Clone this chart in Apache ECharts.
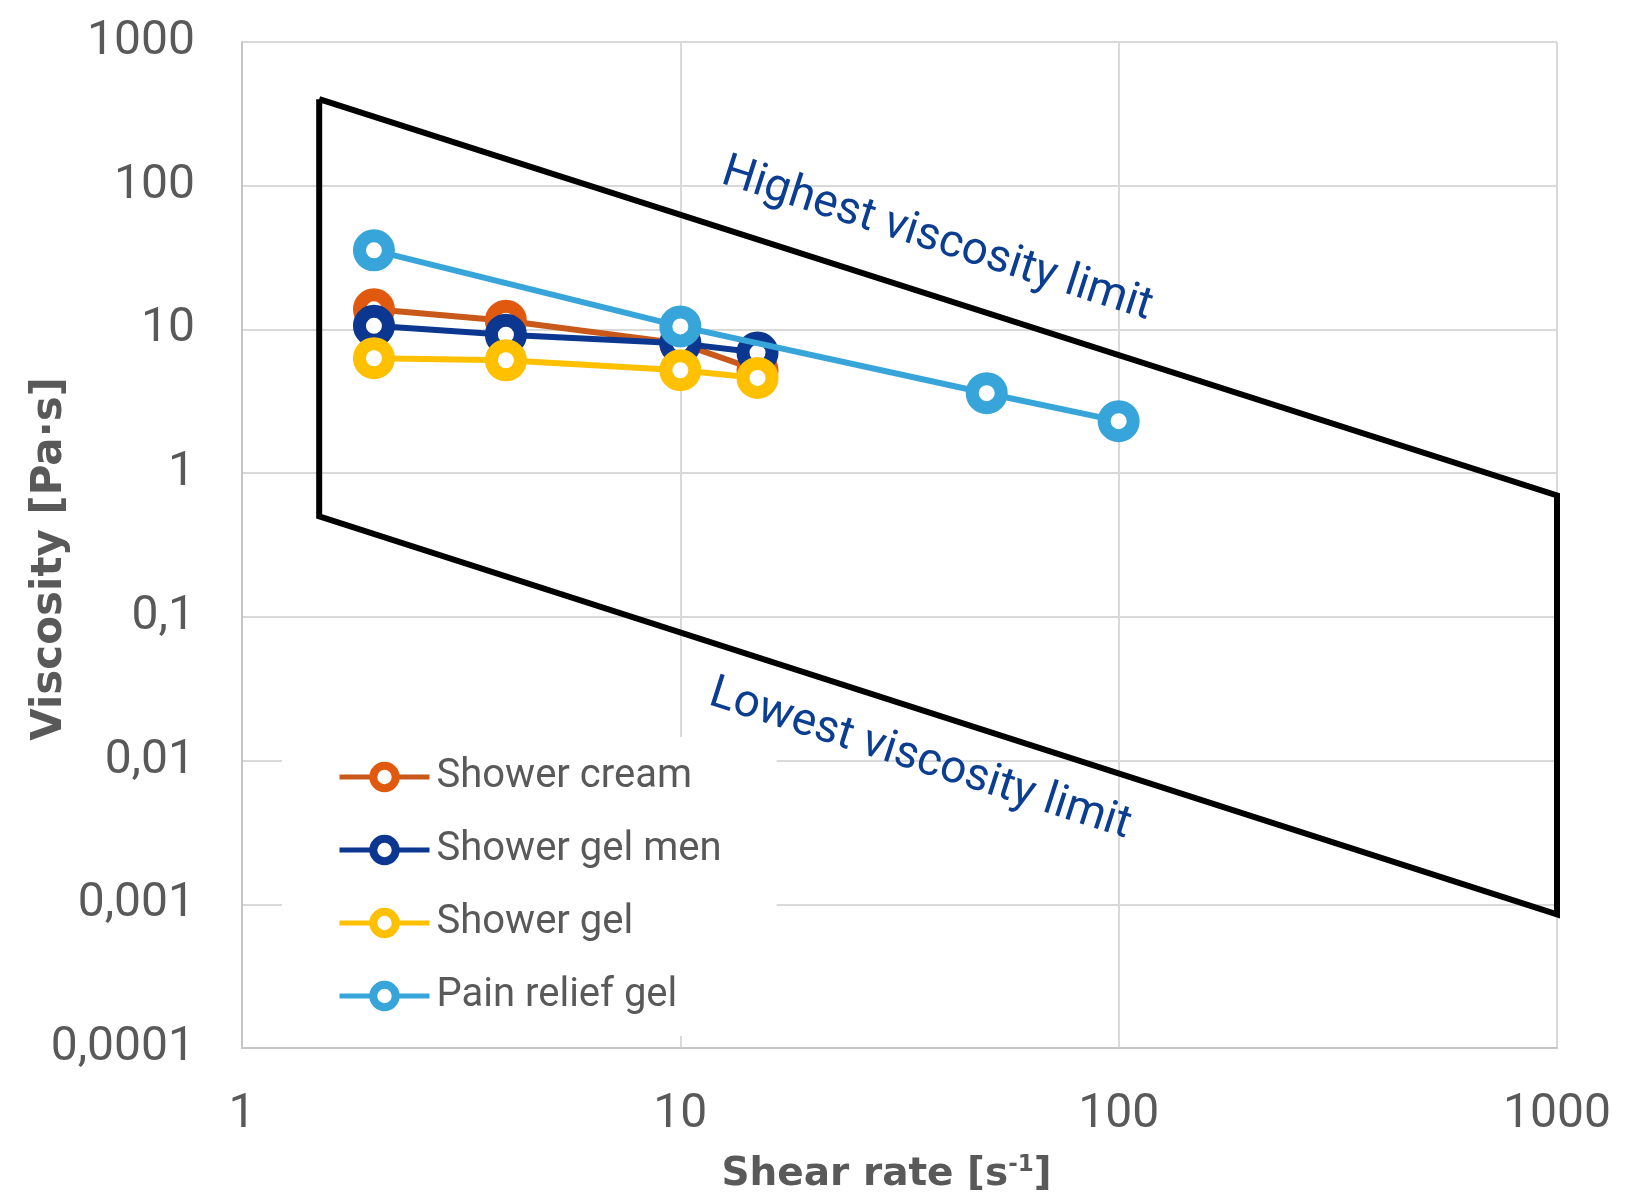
<!DOCTYPE html>
<html>
<head>
<meta charset="utf-8">
<script src="https://cdn.jsdelivr.net/npm/echarts@6/dist/echarts.min.js"></script>
<style>
  html, body { margin: 0; padding: 0; background: #ffffff; }
  #chart { width: 1651px; height: 1192px; }
</style>
</head>
<body>
<div id="chart"></div>
<script>
// ---- Data ----
const seriesNames = ['Shower cream', 'Shower gel men', 'Shower gel', 'Pain relief gel'];
const showerCreamX = [2, 4, 10, 15];
const showerCreamY = [13.8, 11.5, 8.0, 5.2];
const showerGelMenX = [2, 4, 10, 15];
const showerGelMenY = [10.6, 9.2, 8.0, 6.9];
const showerGelX = [2, 4, 10, 15];
const showerGelY = [6.3, 6.1, 5.2, 4.6];
const painReliefX = [2, 10, 50, 100];
const painReliefY = [35.5, 10.5, 3.6, 2.3];
// limit polygon corners (shear rate, viscosity)
const limitX = [1.5, 1000, 1000, 1.5, 1.5];
const limitY = [400, 0.7, 0.00085, 0.5, 400];
// annotation anchors (data coords)
const annotTexts = ['Highest viscosity limit', 'Lowest viscosity limit'];
const annotX = [38.5, 35.2];
const annotY = [41.9, 0.0101];
// tick labels
const xTicks = [1, 10, 100, 1000];
const xTickLabels = ['1', '10', '100', '1000'];
const yTicks = [0.0001, 0.001, 0.01, 0.1, 1, 10, 100, 1000];
const yTickLabels = ['0,0001', '0,001', '0,01', '0,1', '1', '10', '100', '1000'];

const colors = ['#E0590F', '#0B3791', '#FFC000', '#38A5DA'];
const lineColors = ['#C8591A', '#0B3791', '#FFC000', '#38A5DA'];

function zip(xs, ys) { return xs.map((x, i) => [x, ys[i]]); }
function tickLabel(v, ticks, labels) {
  const lv = Math.round(Math.log10(v));
  for (let i = 0; i < ticks.length; i++) {
    if (Math.round(Math.log10(ticks[i])) === lv) return labels[i];
  }
  return '';
}

const chart = echarts.init(document.getElementById('chart'), null, { renderer: 'canvas' });

const dataSets = [
  zip(showerCreamX, showerCreamY),
  zip(showerGelMenX, showerGelMenY),
  zip(showerGelX, showerGelY),
  zip(painReliefX, painReliefY)
];

const mainSeries = dataSets.map((d, i) => ({
  name: seriesNames[i],
  type: 'line',
  data: d,
  symbol: 'circle',
  symbolSize: 29,
  showSymbol: true,
  lineStyle: { color: lineColors[i], width: 6 },
  itemStyle: { color: '#ffffff', borderColor: colors[i], borderWidth: 13 },
  z: 3 + i,
  animation: false
}));

const option = {
  animation: false,
  backgroundColor: '#ffffff',
  grid: { left: 242, right: 94, top: 42, bottom: 144, containLabel: false, outerBoundsMode: 'none' },
  legend: {
    data: seriesNames,
    orient: 'vertical',
    left: 282,
    top: 737,
    backgroundColor: '#ffffff',
    padding: [20, 55, 20, 55],
    itemWidth: 90,
    itemHeight: 28,
    itemGap: 33,
    itemStyle: { borderWidth: 8, color: '#ffffff' },
    lineStyle: { width: 5 },
    textStyle: { fontFamily: 'Roboto', fontSize: 40, color: '#595959', padding: [0, 0, 0, 2] },
    selectedMode: false
  },
  xAxis: {
    type: 'log',
    logBase: 10,
    min: 1,
    max: 1000,
    name: 'Shear rate [s{sup|-1}]',
    nameLocation: 'middle',
    nameGap: 106,
    nameTextStyle: {
      fontFamily: 'DejaVu Sans', fontWeight: 'bold', fontSize: 39, color: '#595959',
      padding: [0, 26, 0, 0],
      rich: { sup: { fontFamily: 'DejaVu Sans', fontWeight: 'bold', fontSize: 23, color: '#595959', verticalAlign: 'top', padding: [0, 0, 18, 0] } }
    },
    axisLine: { show: true, lineStyle: { color: '#c6c6c6', width: 2 } },
    axisTick: { show: false },
    axisLabel: {
      fontFamily: 'Roboto', fontSize: 48, color: '#595959', margin: 43,
      formatter: v => tickLabel(v, xTicks, xTickLabels)
    },
    splitLine: { show: true, lineStyle: { color: '#d9d9d9', width: 2 } },
    minorTick: { show: false },
    minorSplitLine: { show: false }
  },
  yAxis: {
    type: 'log',
    logBase: 10,
    min: 0.0001,
    max: 1000,
    name: 'Viscosity [Pa·s]',
    nameLocation: 'middle',
    nameGap: 171,
    nameMoveOverlap: false,
    nameTextStyle: {
      fontFamily: 'DejaVu Sans', fontWeight: 'bold', fontSize: 42, color: '#595959',
      padding: [0, 28, 0, 0]
    },
    axisLine: { show: true, lineStyle: { color: '#c6c6c6', width: 2 } },
    axisTick: { show: false },
    axisLabel: {
      fontFamily: 'Roboto', fontSize: 48, color: '#595959', margin: 47,
      formatter: v => tickLabel(v, yTicks, yTickLabels)
    },
    splitLine: { show: true, lineStyle: { color: '#d9d9d9', width: 2 } }
  },
  series: [
    {
      name: 'limits',
      type: 'line',
      data: zip(limitX, limitY),
      symbol: 'none',
      lineStyle: { color: '#000000', width: 6, join: 'miter' },
      z: 2,
      silent: true,
      animation: false
    }
  ].concat(mainSeries)
};

chart.setOption(option);

// annotations positioned through the chart's own scales
const pTL = chart.convertToPixel({ gridIndex: 0 }, [limitX[0], limitY[0]]);
const pTR = chart.convertToPixel({ gridIndex: 0 }, [limitX[1], limitY[1]]);
const angle = Math.atan2(pTR[1] - pTL[1], pTR[0] - pTL[0]);
const graphics = annotTexts.map((t, i) => {
  const p = chart.convertToPixel({ gridIndex: 0 }, [annotX[i], annotY[i]]);
  return {
    type: 'text',
    x: p[0], y: p[1],
    rotation: -angle,
    z: 10,
    style: {
      text: t,
      fontFamily: 'Roboto',
      fontSize: 46,
      fill: '#0B3E91',
      align: 'center',
      verticalAlign: 'middle'
    }
  };
});
chart.setOption({ graphic: graphics });
</script>
</body>
</html>
